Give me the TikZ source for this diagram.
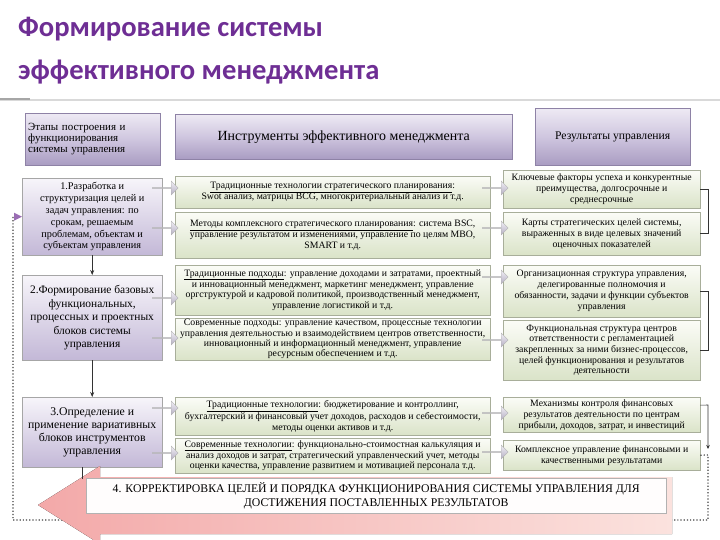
\documentclass[tikz,border=0pt]{standalone}
\usepackage{fontspec}
\setmainfont{Liberation Serif}
\newfontfamily\titlefont{Carlito}
\usetikzlibrary{shapes.arrows,shadows,arrows.meta,calc}
\definecolor{titlepurple}{HTML}{6E2E94}
\definecolor{hdrtop}{HTML}{EEEAF4}
\definecolor{hdrmid}{HTML}{CFC6DF}
\definecolor{hdrbot}{HTML}{A99CC2}
\definecolor{hdrdraw}{HTML}{8E82A6}
\definecolor{stgtop}{HTML}{F7F5FA}
\definecolor{stgbot}{HTML}{C3B8D7}
\definecolor{grtop}{HTML}{FBFCF7}
\definecolor{grbot}{HTML}{DAE3C8}
\definecolor{grdraw}{HTML}{A8AE9A}
\definecolor{artop}{HTML}{F2F0F6}
\definecolor{arbot}{HTML}{B4AEC2}
\definecolor{pinkA}{HTML}{F3A9A9}
\definecolor{pinkB}{HTML}{FBE2DE}
\newcommand{\fs}[2]{\fontsize{#1}{#2}\selectfont}
\newcommand{\bx}[7]{\node[#1, anchor=north west, minimum width={(#5-#3)*1bp}, minimum height={(#6-#4)*1bp}] (#2) at (#3,#4) {#7};}
\tikzset{
  shad/.style={drop shadow={shadow xshift=1bp, shadow yshift=-1bp, fill=black, opacity=0.22}},
  hdr/.style={draw=hdrdraw, top color=hdrtop, bottom color=hdrbot, middle color=hdrmid, shad, inner sep=3bp},
  stagebox/.style={draw=gray!70, top color=stgtop, bottom color=stgbot, shad, inner sep=2bp, align=center},
  gbox/.style={draw=grdraw, top color=grtop, bottom color=grbot, shad, inner sep=1bp, align=center, font=\fs{9.8}{11}},
  garrow/.style={single arrow, single arrow head extend=3.5bp, minimum width=14bp, minimum height=26bp, inner sep=0pt, draw=gray!60, top color=artop, bottom color=arbot},
  thinln/.style={draw=black!80, line width=0.6bp},
}
\begin{document}
\begin{tikzpicture}[x=1bp,y=-1bp]
\useasboundingbox (0,0) rectangle (720,540);
\fill[white] (0,0) rectangle (720,540);
% title
\node[anchor=base west, text=titlepurple, font=\titlefont\bfseries\fs{28.7}{30}, inner sep=0] (t1) at (18,37) {Формирование системы};
\node[anchor=base west, text=titlepurple, font=\titlefont\bfseries\fs{28.7}{30}, inner sep=0] (t2) at (18,80) {эффективного менеджмента};
\draw[gray!30, line width=1.2bp] (0,100) -- (720,100);
\draw[gray!70, line width=1.2bp] (0,99) -- (30,99);
% headers
\bx{hdr, text width=129bp, align=left, font=\fs{11}{11}}{h1}{25}{113}{160}{165}{Этапы построения и\\функционирования\\системы управления}
\bx{hdr, font=\fs{14}{16}}{h2}{175}{114}{512}{159}{Инструменты эффективного менеджмента}
\bx{hdr, font=\fs{11.7}{13}}{h3}{535}{108}{690}{165}{Результаты управления}
% stage boxes
\bx{stagebox, font=\fs{10.3}{11.9}}{l1}{22}{178}{162}{255}{1.Разработка и\\структуризация целей и\\задач управления: по\\срокам, решаемым\\проблемам, объектам и\\субъектам управления}
\bx{stagebox, font=\fs{11.5}{13.5}}{l2}{22}{275}{162}{360}{2.Формирование базовых\\функциональных,\\процессных и проектных\\блоков системы\\управления}
\bx{stagebox, font=\fs{11.8}{13}}{l3}{22}{397}{162}{467}{3.Определение и\\применение вариативных\\блоков инструментов\\управления}
% middle boxes
\bx{gbox}{m1}{175}{176}{490}{208}{\underline{Традиционные технологии стратегического планирования}:\\Swot анализ, матрицы BCG, многокритериальный анализ и т.д.}
\bx{gbox}{m2}{175}{212}{490}{258}{\underline{Методы комплексного стратегического планирования}: система BSC,\\управление результатом и изменениями, управление по целям MBO,\\SMART и т.д.}
\bx{gbox}{m3}{175}{265}{490}{315}{\underline{Традиционные подходы}: управление доходами и затратами, проектный\\и инновационный менеджмент, маркетинг менеджмент, управление\\оргструктурой и кадровой политикой, производственный менеджмент,\\управление логистикой и т.д.}
\bx{gbox, font=\fs{9.8}{10.4}}{m4}{175}{318}{490}{360}{Современные подходы: управление качеством, процессные технологии\\управления деятельностью и взаимодействием центров ответственности,\\инновационный и информационный менеджмент, управление\\ресурсным обеспечением и т.д.}
\bx{gbox}{m5}{175}{397}{490}{435}{\underline{Традиционные технологии}: бюджетирование и контроллинг,\\бухгалтерский и финансовый учет доходов, расходов и себестоимости,\\методы оценки активов и т.д.}
\bx{gbox}{m6}{175}{438}{490}{473}{\underline{Современные технологии}: функционально-стоимостная калькуляция и\\анализ доходов и затрат, стратегический управленческий учет, методы\\оценки качества, управление развитием и мотивацией персонала т.д.}
% right boxes
\bx{gbox}{r1}{503}{170}{700}{208}{Ключевые факторы успеха и конкурентные\\преимущества, долгосрочные и\\среднесрочные}
\bx{gbox}{r2}{503}{212}{700}{255}{Карты стратегических целей системы,\\выраженных в виде целевых значений\\оценочных показателей}
\bx{gbox}{r3}{503}{265}{700}{317}{Организационная структура управления,\\делегированные полномочия и\\обязанности, задачи и функции субъектов\\управления}
\bx{gbox, font=\fs{9.8}{10.6}}{r4}{503}{320}{700}{380}{Функциональная структура центров\\ответственности с регламентацией\\закрепленных за ними бизнес-процессов,\\целей функционирования и результатов\\деятельности}
\bx{gbox}{r5}{503}{397}{700}{432}{Механизмы контроля финансовых\\результатов деятельности по центрам\\прибыли, доходов, затрат, и инвестиций}
\bx{gbox}{r6}{503}{440}{700}{470}{Комплексное управление финансовыми и\\качественными результатами}
% block arrows stage -> tools
\node[garrow, anchor=west] (a1) at (152,188) {};
\node[garrow, anchor=west] (a2) at (152,228) {};
\node[garrow, anchor=west] (a3) at (152,298) {};
\node[garrow, anchor=west] (a4) at (152,338) {};
\node[garrow, anchor=west] (a5) at (152,408) {};
\node[garrow, anchor=west] (a6) at (152,453) {};
% block arrows tools -> results
\node[garrow, anchor=west] (b1) at (482,188) {};
\node[garrow, anchor=west] (b2) at (482,228) {};
\node[garrow, anchor=west] (b3) at (482,277) {};
\node[garrow, anchor=west] (b4) at (482,340) {};
\node[garrow, anchor=west] (b5) at (482,413) {};
\node[garrow, anchor=west] (b6) at (482,452) {};
% down arrows
\draw[thinln, -{Stealth[length=5bp,width=4bp]}] (l1.south) -- (l2.north);
\draw[thinln, -{Stealth[length=5bp,width=4bp]}] (l2.south) -- (l3.north);
% result brackets
\draw[thinln] (r1.east) -- ++(8,0) |- (r2.east);
\draw[thinln] (r3.east) -- ++(8,0) |- (r4.east);
\coordinate (q1) at (708,405);
\coordinate (q2) at (708,455);
\coordinate (q3) at (708,520);
\coordinate (q4) at (13,520);
\draw[thinln, -{Stealth[length=4bp,width=3.5bp]}] ([yshift=9.5bp]r5.east) -- (q1) -- (708,449);
% feedback loop (dotted)
\draw[black!75, line width=1.2bp, dotted] (r6.east) -- (q2) -- (q3) -- (q4) |- ([xshift=-7bp]l1.west);
\fill[titlepurple!70] ([xshift=-8bp,yshift=4bp]l1.west) -- (l1.west) -- ([xshift=-8bp,yshift=-4bp]l1.west) -- cycle;
% bottom correction arrow
\fill[left color=pinkA, right color=pinkB] (38,505) -- (100,466) -- (100,477) -- (672,477) -- (672,534) -- (100,534) -- (100,544) -- cycle;
\draw[thinln] ([xshift=-10bp]l3.south) -- ++(0,12);
\node[draw=gray!60, fill=white!94!pinkB, anchor=north west, minimum width=580bp, minimum height=35bp, inner sep=2bp, align=center, font=\fs{11.8}{13.5}] (k4) at (86,478) {4. КОРРЕКТИРОВКА ЦЕЛЕЙ И ПОРЯДКА ФУНКЦИОНИРОВАНИЯ СИСТЕМЫ УПРАВЛЕНИЯ ДЛЯ\\ДОСТИЖЕНИЯ ПОСТАВЛЕННЫХ РЕЗУЛЬТАТОВ};
\end{tikzpicture}
\end{document}
